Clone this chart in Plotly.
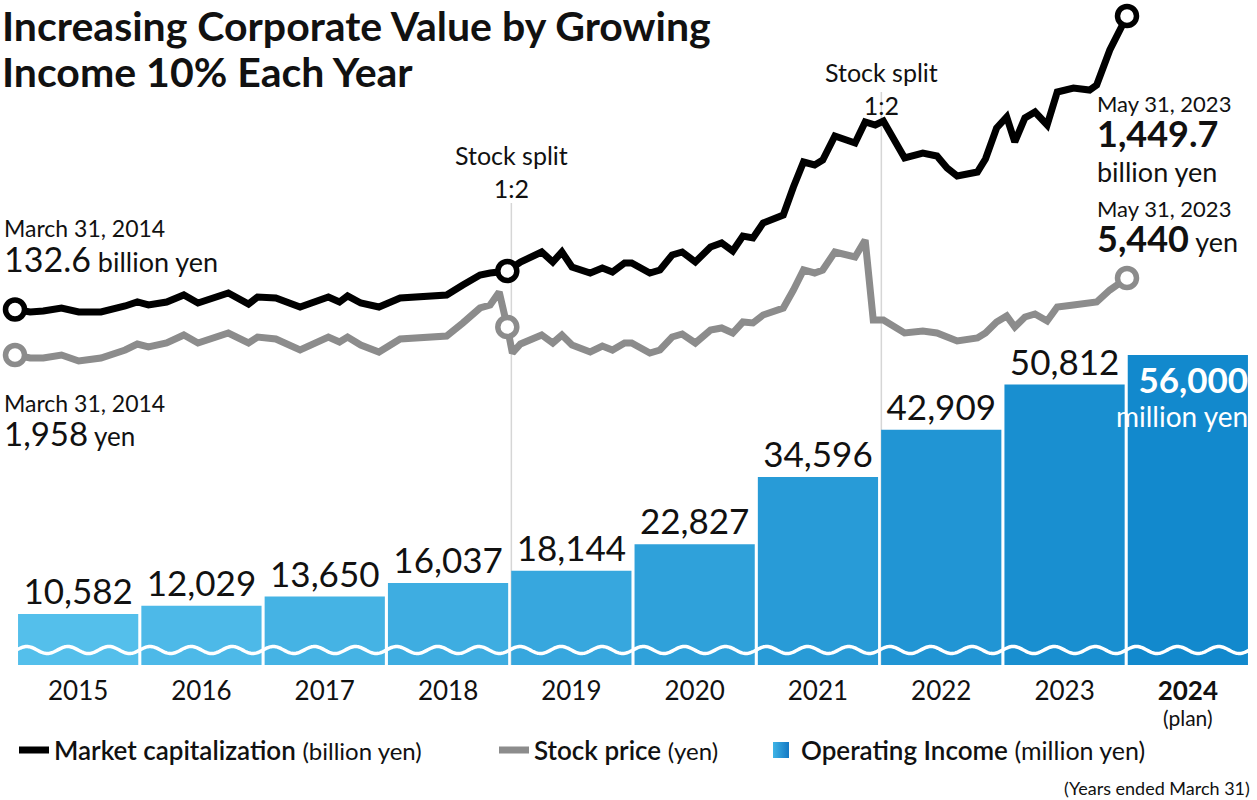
import numpy as np
import plotly.graph_objects as go

# ---------------- data ----------------
fiscal_years = ["2015", "2016", "2017", "2018", "2019", "2020", "2021", "2022", "2023", "2024"]
operating_income = [10582, 12029, 13650, 16037, 18144, 22827, 34596, 42909, 50812, 56000]  # million yen

# months elapsed since March 31, 2014
mcap_months = [0, 1.5, 2.8, 4.6, 6.3, 8.5, 10.9, 12.1, 13.2, 15.0, 16.7, 18.1, 21.1, 23.1, 24.0, 25.8,
               28.2, 31.0, 32.1, 32.9, 34.2, 36.0, 38.1, 40.1, 42.7, 44.3, 46.0, 47.0, 48.7, 50.0, 52.1,
               53.2, 54.1, 55.1, 56.9, 58.1, 59.1, 60.3, 61.0, 62.8, 63.8, 65.0, 66.0, 67.3, 68.8, 69.9,
               71.0, 72.0, 73.0, 74.0, 76.0, 77.0, 78.0, 79.1, 79.9, 81.1, 83.1, 84.1, 85.1, 85.9, 86.9,
               88.0, 89.8, 91.2, 92.2, 93.2, 95.2, 96.0, 97.1, 98.1, 98.9, 99.9, 100.9, 102.1, 103.1,
               104.7, 106.3, 107.0, 108.3, 109.3, 110.0]
market_cap = [132.6, 121.4, 125.9, 139.3, 121.4, 121.4, 148.3, 166.3, 152.8, 166.3, 197.7, 161.8, 206.6,
              157.3, 188.7, 184.2, 143.8, 188.7, 166.3, 193.2, 161.8, 143.8, 184.2, 188.7, 197.7, 242.5,
              287.4, 296.4, 305.4, 345.8, 390.6, 345.8, 390.6, 323.3, 296.4, 318.8, 300.9, 341.3, 341.3,
              296.4, 309.9, 377.2, 390.6, 345.8, 413.1, 431.0, 395.1, 462.4, 453.5, 520.8, 556.7, 682.3,
              794.5, 781.1, 803.5, 911.2, 879.8, 974.0, 960.6, 978.5, 902.2, 812.5, 834.9, 821.4, 767.6,
              731.7, 749.6, 808.0, 947.1, 996.5, 884.3, 992.0, 1018.9, 960.6, 1108.7, 1126.6, 1117.6,
              1140.1, 1297.1, 1386.9, 1449.7]  # billion yen

price_months = [0, 1.5, 2.8, 4.6, 6.3, 8.5, 10.9, 12.1, 13.2, 15.0, 16.7, 18.1, 21.1, 23.1, 24.0, 25.8,
                28.2, 31.0, 32.1, 32.9, 34.2, 36.0, 38.1, 40.1, 42.7, 44.3, 46.0, 47.0, 47.9, 48.7, 49.2,
                50.0, 52.1, 53.2, 54.1, 55.1, 56.9, 58.1, 59.1, 60.3, 61.0, 62.8, 63.8, 65.0, 66.0, 67.3,
                68.8, 69.9, 71.0, 72.0, 73.0, 74.0, 76.0, 77.0, 78.0, 79.1, 79.9, 81.1, 83.1, 84.1, 84.9,
                85.9, 88.0, 89.8, 91.2, 93.2, 95.2, 96.0, 97.1, 98.1, 98.9, 99.9, 100.9, 102.1, 103.1,
                104.7, 106.3, 107.0, 108.3, 110.0]
stock_price = [1958, 1822, 1822, 1958, 1687, 1822, 2184, 2455, 2320, 2501, 2862, 2501, 2953, 2501, 2772,
               2682, 2184, 2772, 2546, 2772, 2410, 2094, 2682, 2772, 2817, 3405, 4083, 4219, 4807, 3224,
               2048, 2455, 2862, 2501, 2862, 2410, 2094, 2365, 2184, 2501, 2501, 2048, 2184, 2772, 2908,
               2501, 3088, 3179, 2953, 3450, 3405, 3767, 4083, 4897, 5802, 5666, 5802, 6616, 6390, 7158,
               3541, 3541, 2953, 3043, 2953, 2591, 2727, 2953, 3450, 3722, 3224, 3676, 3812, 3495, 4129,
               4219, 4264, 4355, 4897, 5440]  # yen

split_line_months = [49.1, 85.7]   # stock splits 1:2
split_point_month = 48.7           # point marked on both lines at the first split

# ---------------- styling ----------------
FONT = "Lato, 'Noto Sans', sans-serif"
INK = "#111111"
W, H = 1257, 800
ML, MR = 8, 6
PLOT_W = W - ML - MR
BAR_BOTTOM_PX = 665


def py(p):
    return 1 - p / H


def px(p):
    return (p - ML) / PLOT_W


def sz(text, size):
    return f"<span style='font-size:{size}px'>{text}</span>"


n = len(fiscal_years)
pos = np.arange(n)
c0 = np.array([84, 191, 235])
c1 = np.array([18, 137, 205])
bar_colors = ["rgb(%d,%d,%d)" % tuple(np.round(c0 + (c1 - c0) * t)) for t in np.linspace(0, 1, n)]

fig = go.Figure()

# operating income bars
labels = [f"{v:,}" for v in operating_income]
fig.add_trace(go.Bar(
    x=pos, y=operating_income, marker=dict(color=bar_colors, line=dict(width=0)),
    text=labels[:-1] + [""], textposition="outside", constraintext="none", cliponaxis=False,
    textfont=dict(family=FONT, size=35, color=INK),
    showlegend=False, hoverinfo="skip", xaxis="x", yaxis="y"))

# legend proxy for the bars (gradient square)
fig.add_trace(go.Scatter(
    x=[None], y=[None], mode="markers", xaxis="x", yaxis="y",
    marker=dict(symbol="square", size=20, color="#3fb4e6",
                gradient=dict(type="horizontal", color="#1378c4")),
    name="<span style='font-weight:600'>Operating Income</span> " + sz("(million yen)", 25),
    legend="legend3", showlegend=True))

# market cap line
fig.add_trace(go.Scatter(
    x=mcap_months, y=market_cap, mode="lines", line=dict(color="#000000", width=7),
    name="<span style='font-weight:600'>Market capitalization</span> " + sz("(billion yen)", 24),
    legend="legend", xaxis="x2", yaxis="y2", hoverinfo="skip"))
# stock price line
fig.add_trace(go.Scatter(
    x=price_months, y=stock_price, mode="lines", line=dict(color="#8c8c8c", width=7),
    name="<span style='font-weight:600'>Stock price</span> " + sz("(yen)", 24),
    legend="legend2", xaxis="x3", yaxis="y3", hoverinfo="skip"))

# ring markers
i_s = mcap_months.index(split_point_month)
mk = [0, i_s, len(mcap_months) - 1]
fig.add_trace(go.Scatter(
    x=[mcap_months[i] for i in mk], y=[market_cap[i] for i in mk], mode="markers",
    marker=dict(size=19, color="white", line=dict(color="#000000", width=5.5)),
    showlegend=False, xaxis="x2", yaxis="y2", cliponaxis=False, hoverinfo="skip"))
j_s = price_months.index(split_point_month)
mk2 = [0, j_s, len(price_months) - 1]
fig.add_trace(go.Scatter(
    x=[price_months[i] for i in mk2], y=[stock_price[i] for i in mk2], mode="markers",
    marker=dict(size=19, color="white", line=dict(color="#8c8c8c", width=5.5)),
    showlegend=False, xaxis="x3", yaxis="y3", cliponaxis=False, hoverinfo="skip"))

# ---------------- axes ----------------
slot = 123.3
x_lo = -0.5 - (16.5 - ML) / slot
x_hi = x_lo + PLOT_W / slot
bar_base = 1639
bar_top = 118244
m_per_px = 110 / 1112
mx_lo = 0 - (15 - ML) * m_per_px
mx_hi = mx_lo + PLOT_W * m_per_px

ticktext = fiscal_years[:-1] + ["<b>%s</b>" % fiscal_years[-1]]

legend_common = dict(y=py(750), xanchor="left", yanchor="middle", orientation="h",
                     font=dict(family=FONT, size=26, color=INK), bgcolor="rgba(0,0,0,0)")
fig.update_layout(
    width=W, height=H, margin=dict(l=ML, r=MR, t=0, b=0),
    paper_bgcolor="white", plot_bgcolor="rgba(0,0,0,0)",
    bargap=0.025, font=dict(family=FONT, color=INK),
    xaxis=dict(domain=[0, 1], range=[x_lo, x_hi], tickvals=list(pos), ticktext=ticktext,
               showgrid=False, zeroline=False, showline=False, ticks="",
               tickfont=dict(family=FONT, size=26, color=INK), ticklabelstandoff=8, fixedrange=True),
    yaxis=dict(domain=[1 - BAR_BOTTOM_PX / H, 1], range=[bar_base, bar_top], visible=False),
    xaxis2=dict(overlaying="x", range=[mx_lo, mx_hi], visible=False, anchor="y2"),
    xaxis3=dict(overlaying="x", range=[mx_lo, mx_hi], visible=False, anchor="y3"),
    yaxis2=dict(overlaying="y", range=[-1462.7, 1521.5], visible=False, anchor="x2"),
    yaxis3=dict(overlaying="y", range=[-12060, 18011], visible=False, anchor="x3"),
    legend=dict(x=px(14), **legend_common),
    legend2=dict(x=px(494), **legend_common),
    legend3=dict(x=px(761), **legend_common),
)

# stock split guide lines
for m, top_px in zip(split_line_months, [203, 92]):
    fig.add_shape(type="line", xref="x2", yref="paper", x0=m, x1=m, y0=py(top_px), y1=py(BAR_BOTTOM_PX),
                  line=dict(color="#d6d6d6", width=1.5), layer="below")

# wavy break line across the bars
wx = np.linspace(x_lo, x_hi, 1200)
wy = py(650) + (3.5 / H) * np.sin(2 * np.pi * 3 * (wx + 0.5))
path = "M " + " L ".join(f"{a:.4f},{b:.5f}" for a, b in zip(wx, wy))
fig.add_shape(type="path", xref="x", yref="paper", path=path, line=dict(color="white", width=3.5))


def ann(text, x, y, size, xanchor="left", yanchor="middle", color=INK, xref="paper", yref="paper", **kw):
    fig.add_annotation(text=text, x=x, y=y, xref=xref, yref=yref, xanchor=xanchor, yanchor=yanchor,
                       showarrow=False, font=dict(family=FONT, size=size, color=color), **kw)


# title (base size sets the line spacing)
ann(sz("<b>Increasing Corporate Value by Growing</b>", 41) + "<br>" + sz("<b>Income 10% Each Year</b>", 41),
    px(1), py(0), 35, yanchor="top", align="left", borderpad=0)

# stock split labels
for m, top_px in zip(split_line_months, [138, 55]):
    ann("Stock split<br>1:2", m, py(top_px), 25, xanchor="center", yanchor="top", xref="x2", align="center")

# start annotations
ann(sz("March 31, 2014", 23) + "<br>" + sz(f"{market_cap[0]:.1f}", 34) + " billion yen",
    px(2), py(246), 27, align="left")
ann(sz("March 31, 2014", 23) + "<br>" + sz(f"{stock_price[0]:,}", 33) + " yen",
    px(2), py(421), 26, align="left")

# end annotations
ann(sz("May 31, 2023", 22) + "<br>" + sz(f"<b>{market_cap[-1]:,.1f}</b>", 36) + "<br>" + "billion yen"
    + "<br>" + sz("May 31, 2023", 22) + "<br>" + sz(f"<b>{stock_price[-1]:,}</b>", 36) + " yen",
    px(1095), py(175), 27, align="left")

# plan bar label
ann(sz(f"<b>{operating_income[-1]:,}</b>", 35) + "<br>" + sz("million yen", 28),
    n - 1 + 0.5, operating_income[-1], 26, xanchor="right", yanchor="top",
    xref="x", yref="y", color="white", align="right", yshift=-1)
ann("(plan)", n - 1, py(717), 21, xanchor="center", xref="x")

ann("(Years ended March 31)", px(1252), py(788), 18, xanchor="right")

fig.write_html("out.html", config={"displayModeBar": False},
               post_script="document.body.style.margin='0px';")
